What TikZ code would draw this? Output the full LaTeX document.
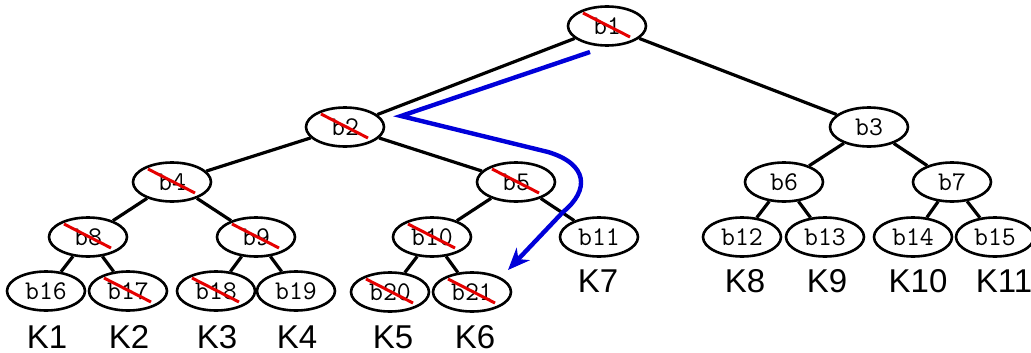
\documentclass[tikz,border=0pt]{standalone}
\usepackage{fontspec}
\setmainfont{Liberation Sans}
\usetikzlibrary{shapes.geometric,arrows.meta}

\begin{document}
\begin{tikzpicture}[
                x=1pt, y=-1pt,
                blk/.style={
                    draw=black,
                    ellipse,
                    line width=2.6pt,
                    minimum width=78pt,
                    minimum height=39pt,
                    inner sep=0pt,
                    font=\ttfamily\fontsize{27}{29}\selectfont
                },
                klabel/.style={
                    anchor=base,
                    inner sep=0pt,
                    font=\fontsize{33}{36}\selectfont
                },
                link/.style={
                    line width=3.2pt
                },
                strike/.style={
                    draw=red!90!black,
                    line width=3pt
                },
                route/.style={
                    draw=blue!85!black,
                    line width=4.4pt,
                    -{Stealth[length=22pt,width=18pt,inset=7pt]}
                }
            ]
                \useasboundingbox (0,0) rectangle (1031,353);

                \node[blk] (b1)  at (607,26)  {b1};
                \node[blk] (b2)  at (345,127) {b2};
                \node[blk] (b3)  at (869,127) {b3};
                \node[blk] (b4)  at (172,182) {b4};
                \node[blk] (b5)  at (516,182) {b5};
                \node[blk] (b6)  at (784,182) {b6};
                \node[blk] (b7)  at (952,182) {b7};
                \node[blk] (b8)  at (88,237)  {b8};
                \node[blk] (b9)  at (256,237) {b9};
                \node[blk] (b10) at (432,237) {b10};
                \node[blk] (b11) at (599,237) {b11};
                \node[blk] (b12) at (742,237) {b12};
                \node[blk] (b13) at (825,237) {b13};
                \node[blk] (b14) at (913,237) {b14};
                \node[blk] (b15) at (995,237) {b15};
                \node[blk] (b16) at (46,291)  {b16};
                \node[blk] (b17) at (128,291) {b17};
                \node[blk] (b18) at (216,291) {b18};
                \node[blk] (b19) at (296,291) {b19};
                \node[blk] (b20) at (390,292) {b20};
                \node[blk] (b21) at (472,292) {b21};

                \node[klabel] (k1)  at (47,348)   {K1};
                \node[klabel] (k2)  at (129,348)  {K2};
                \node[klabel] (k3)  at (217,348)  {K3};
                \node[klabel] (k4)  at (297,348)  {K4};
                \node[klabel] (k5)  at (393,348)  {K5};
                \node[klabel] (k6)  at (475,348)  {K6};
                \node[klabel] (k7)  at (598,292)  {K7};
                \node[klabel] (k8)  at (745,292)  {K8};
                \node[klabel] (k9)  at (827,292)  {K9};
                \node[klabel] (k10) at (918,292)  {K10};
                \node[klabel] (k11) at (1004,292) {K11};

                \draw[link] (b1) -- (b2);
                \draw[link] (b1) -- (b3);
                \draw[link] (b2) -- (b4);
                \draw[link] (b2) -- (b5);
                \draw[link] (b3) -- (b6);
                \draw[link] (b3) -- (b7);
                \draw[link] (b4) -- (b8);
                \draw[link] (b4) -- (b9);
                \draw[link] (b5) -- (b10);
                \draw[link] (b5) -- (b11);
                \draw[link] (b6) -- (b12);
                \draw[link] (b6) -- (b13);
                \draw[link] (b7) -- (b14);
                \draw[link] (b7) -- (b15);
                \draw[link] (b8) -- (b16);
                \draw[link] (b8) -- (b17);
                \draw[link] (b9) -- (b18);
                \draw[link] (b9) -- (b19);
                \draw[link] (b10) -- (b20);
                \draw[link] (b10) -- (b21);

                % crossed out blocks
                \foreach \n in {b1,b2,b4,b5,b8,b9,b10,b17,b18,b20,b21}
                    \draw[strike] ([shift={(-24,-13)}]\n.center) -- ([shift={(23,11)}]\n.center);

                % walk down the tree
                \coordinate (walkstart) at (590,52);
                \coordinate (walkturn)  at (401,116);
                \coordinate (walkend)   at (508,270);
                \draw[route] (walkstart) -- (walkturn) -- (548,152)
                    .. controls (588,164) and (590,190) .. (563,212) -- (walkend);
        \end{tikzpicture}
\end{document}
